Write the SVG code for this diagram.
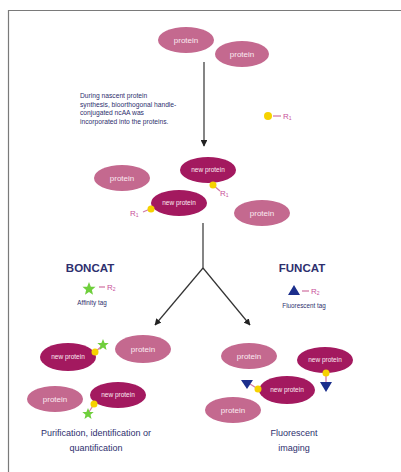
<svg xmlns="http://www.w3.org/2000/svg" width="401" height="472" viewBox="0 0 401 472">
<style>
.p{fill:#c4698f}
.n{fill:#a3195f}
.pt{font-family:"Liberation Sans",Arial,sans-serif;font-size:8px;fill:#fbeaf1;text-anchor:middle}
.nt{font-family:"Liberation Sans",Arial,sans-serif;font-size:6.5px;fill:#fbeaf1;text-anchor:middle}
.t{font-family:"Liberation Sans",Arial,sans-serif;fill:#2e2f6e}
.h{font-family:"Liberation Sans",Arial,sans-serif;fill:#2e2f6e;font-size:11.5px;font-weight:bold;text-anchor:middle}
.r{font-family:"Liberation Sans",Arial,sans-serif;font-size:8px;fill:#c8509a}
.dot{fill:#f6d200}
.lk{stroke:#d27aa8;stroke-width:1.3;fill:none}
.star{fill:#6fcf3c}
.tri{fill:#1c2f8c}
.c{stroke:#333;stroke-width:1.2;fill:none}
</style>
<defs>
<marker id="ah" viewBox="0 0 10 10" refX="9" refY="5" markerWidth="5.5" markerHeight="5.5" orient="auto">
<path d="M0,0 L10,5 L0,10 z" fill="#222"/>
</marker>
<path id="st" d="M0,-6 L1.6,-2 L5.7,-1.9 L2.5,0.8 L3.5,4.9 L0,2.5 L-3.5,4.9 L-2.5,0.8 L-5.7,-1.9 L-1.6,-2 z"/>
</defs>
<rect width="401" height="472" fill="#fff"/>
<path d="M8.5,472 V10.5 H401" stroke="#7a7a7a" stroke-width="1.2" fill="none"/>

<g id="connectors">
<line class="c" x1="204" y1="62" x2="204" y2="146" marker-end="url(#ah)"/>
<polyline class="c" points="203,223 203,268"/>
<line class="c" x1="203" y1="268" x2="155" y2="325" marker-end="url(#ah)"/>
<line class="c" x1="203" y1="268" x2="250" y2="325" marker-end="url(#ah)"/>
</g>

<g id="top-protein-1"><ellipse class="p" cx="186" cy="40" rx="28" ry="13"/><text class="pt" x="186" y="43">protein</text></g>
<g id="top-protein-2"><ellipse class="p" cx="242" cy="54" rx="27" ry="13"/><text class="pt" x="242" y="57">protein</text></g>

<g id="desc">
<text class="t" font-size="6.7" x="80" y="98">During nascent protein</text>
<text class="t" font-size="6.7" x="80" y="106.5">synthesis, bioorthogonal handle-</text>
<text class="t" font-size="6.7" x="80" y="115">conjugated ncAA was</text>
<text class="t" font-size="6.7" x="80" y="123.5">incorporated into the proteins.</text>
</g>

<g id="legend-r1">
<circle class="dot" cx="268" cy="116" r="4"/>
<line class="lk" x1="273" y1="116" x2="281" y2="116"/>
<text class="r" x="283" y="119">R<tspan font-size="5" dy="1">1</tspan></text>
</g>

<g id="mid-protein-1"><ellipse class="p" cx="122" cy="178" rx="28" ry="13"/><text class="pt" x="122" y="181">protein</text></g>
<g id="mid-new-1">
<ellipse class="n" cx="208" cy="170" rx="28" ry="13"/><text class="nt" x="208" y="172">new protein</text>
<line class="lk" x1="213" y1="185" x2="220" y2="191"/>
<circle class="dot" cx="213" cy="185" r="3.5"/>
<text class="r" x="220" y="196">R<tspan font-size="5" dy="1">1</tspan></text>
</g>
<g id="mid-new-2">
<ellipse class="n" cx="179" cy="203" rx="28" ry="13"/><text class="nt" x="179" y="205">new protein</text>
<line class="lk" x1="150" y1="209" x2="143" y2="212"/>
<circle class="dot" cx="151" cy="209" r="3.5"/>
<text class="r" x="130" y="216">R<tspan font-size="5" dy="1">1</tspan></text>
</g>
<g id="mid-protein-2"><ellipse class="p" cx="262" cy="213" rx="28" ry="13"/><text class="pt" x="262" y="216">protein</text></g>

<g id="boncat">
<text class="h" x="90" y="272">BONCAT</text>
<use href="#st" class="star" transform="translate(89 289) scale(1.15)"/>
<line class="lk" x1="99" y1="287" x2="105" y2="287"/>
<text class="r" x="107" y="290">R<tspan font-size="5" dy="1">2</tspan></text>
<text class="t" font-size="6.3" x="92" y="305" text-anchor="middle">Affinity tag</text>
</g>

<g id="funcat">
<text class="h" x="302" y="272">FUNCAT</text>
<polygon class="tri" points="294,285 300,295 288,295"/>
<line class="lk" x1="302" y1="291" x2="309" y2="291"/>
<text class="r" x="311" y="294">R<tspan font-size="5" dy="1">2</tspan></text>
<text class="t" font-size="6.3" x="304" y="308" text-anchor="middle">Fluorescent tag</text>
</g>

<g id="bl-new-1">
<ellipse class="n" cx="68" cy="357" rx="28" ry="14"/><text class="nt" x="68" y="359">new protein</text>
<line class="lk" x1="95" y1="352" x2="102" y2="346"/>
<use href="#st" class="star" x="103" y="345"/>
<circle class="dot" cx="95" cy="352" r="3.5"/>
</g>
<g id="bl-protein-1"><ellipse class="p" cx="143" cy="349" rx="28" ry="14"/><text class="pt" x="143" y="352">protein</text></g>
<g id="bl-protein-2"><ellipse class="p" cx="55" cy="399" rx="28" ry="13"/><text class="pt" x="55" y="402">protein</text></g>
<g id="bl-new-2">
<ellipse class="n" cx="118" cy="395" rx="28" ry="13"/><text class="nt" x="118" y="397">new protein</text>
<line class="lk" x1="94" y1="404" x2="89" y2="412"/>
<use href="#st" class="star" x="88" y="414"/>
<circle class="dot" cx="94" cy="404" r="3.5"/>
</g>
<g id="bl-caption">
<text class="t" font-size="9" x="96" y="436" text-anchor="middle">Purification, identification or</text>
<text class="t" font-size="9" x="96" y="451" text-anchor="middle">quantification</text>
</g>

<g id="br-protein-1"><ellipse class="p" cx="249" cy="356" rx="28" ry="13"/><text class="pt" x="249" y="359">protein</text></g>
<g id="br-new-1">
<ellipse class="n" cx="325" cy="360" rx="28" ry="13"/><text class="nt" x="325" y="362">new protein</text>
<line class="lk" x1="326" y1="373" x2="326" y2="383"/>
<polygon class="tri" points="320,382 332,382 326,392"/>
<circle class="dot" cx="326" cy="373" r="3.5"/>
</g>
<g id="br-new-2">
<ellipse class="n" cx="287" cy="390" rx="28" ry="14"/><text class="nt" x="287" y="392">new protein</text>
<line class="lk" x1="258" y1="389" x2="250" y2="384"/>
<polygon class="tri" points="241,380 253,380 247,389"/>
<circle class="dot" cx="258" cy="389" r="3.5"/>
</g>
<g id="br-protein-2"><ellipse class="p" cx="233" cy="410" rx="28" ry="13"/><text class="pt" x="233" y="413">protein</text></g>
<g id="br-caption">
<text class="t" font-size="9" x="294" y="436" text-anchor="middle">Fluorescent</text>
<text class="t" font-size="9" x="294" y="451" text-anchor="middle">imaging</text>
</g>
</svg>
